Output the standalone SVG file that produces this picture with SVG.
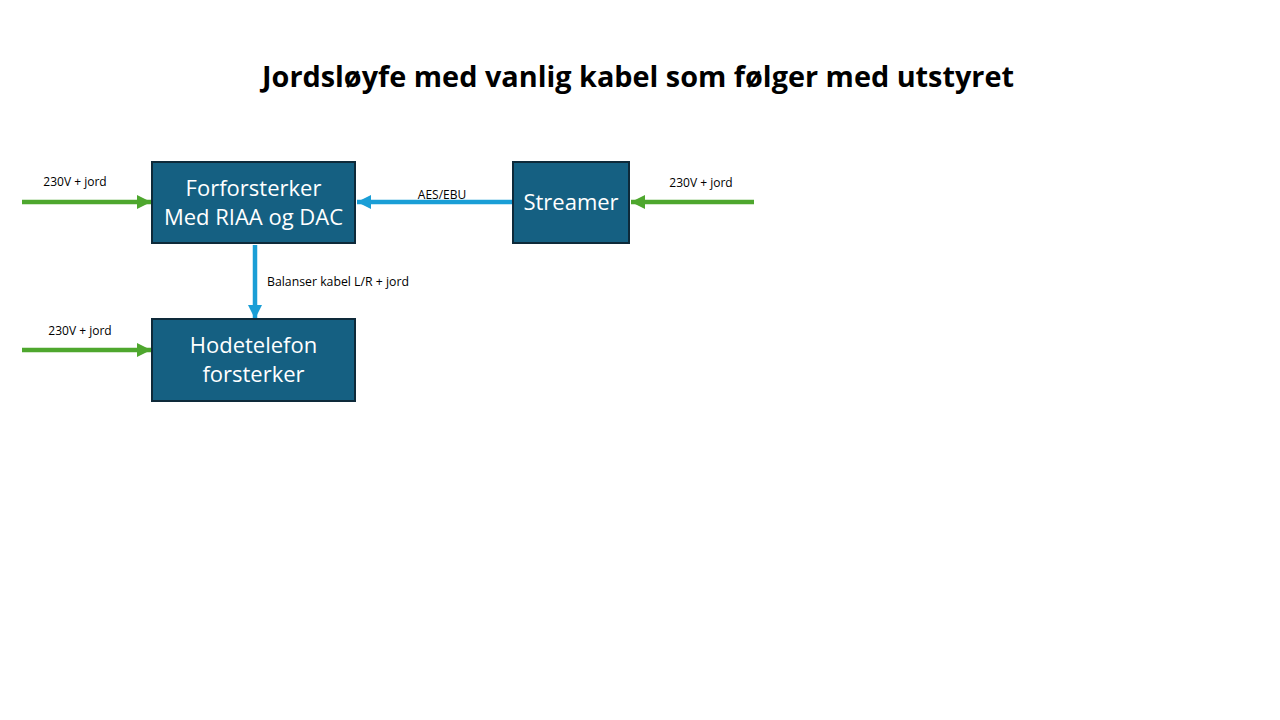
<svg xmlns="http://www.w3.org/2000/svg" width="1280" height="720" viewBox="0 0 1280 720">
<style>
.box{fill:#156082;stroke:#0e2a3a;stroke-width:2}
.nt{font-family:"Open Sans","Liberation Sans",sans-serif;font-size:22px;fill:#ffffff;text-anchor:middle}
.lbl{font-family:"Open Sans","Liberation Sans",sans-serif;font-size:12px;fill:#000000}
.g{stroke:#4ea72e;stroke-width:4.5;fill:none}
.b{stroke:#1a9ed6;stroke-width:4.5;fill:none}
</style>
<defs>
<marker id="ag" viewBox="0 0 10 10" refX="10" refY="5" markerWidth="3.2" markerHeight="3.2" orient="auto" markerUnits="strokeWidth"><path d="M0,0 L10,5 L0,10 z" fill="#4ea72e"/></marker>
<marker id="ab" viewBox="0 0 10 10" refX="10" refY="5" markerWidth="3.2" markerHeight="3.2" orient="auto" markerUnits="strokeWidth"><path d="M0,0 L10,5 L0,10 z" fill="#1a9ed6"/></marker>
</defs>
<rect width="1280" height="720" fill="#ffffff"/>
<text x="638" y="87" font-family="'Open Sans','Liberation Sans',sans-serif" font-size="28.8" font-weight="bold" text-anchor="middle" fill="#000" textLength="752" lengthAdjust="spacingAndGlyphs">Jordsløyfe med vanlig kabel som følger med utstyret</text>
<g id="connectors">
<line class="g" x1="22" y1="202" x2="151" y2="202" marker-end="url(#ag)"/>
<line class="g" x1="22" y1="350" x2="151" y2="350" marker-end="url(#ag)"/>
<line class="g" x1="754" y1="202" x2="631" y2="202" marker-end="url(#ag)"/>
<line class="b" x1="513" y1="202" x2="357" y2="202" marker-end="url(#ab)"/>
<line class="b" x1="255" y1="245" x2="255" y2="319" marker-end="url(#ab)"/>
<text class="lbl" x="75" y="186" text-anchor="middle">230V + jord</text>
<text class="lbl" x="80" y="335" text-anchor="middle">230V + jord</text>
<text class="lbl" x="701" y="187" text-anchor="middle">230V + jord</text>
<text class="lbl" x="442" y="199" text-anchor="middle">AES/EBU</text>
<text class="lbl" x="267" y="286" textLength="142" lengthAdjust="spacingAndGlyphs">Balanser kabel L/R + jord</text>
</g>
<g id="forforsterker">
<rect class="box" x="152" y="162" width="203" height="81"/>
<text class="nt" x="253.5" y="196">Forforsterker</text>
<text class="nt" x="253.5" y="225">Med RIAA og DAC</text>
</g>
<g id="streamer">
<rect class="box" x="513" y="162" width="116" height="81"/>
<text class="nt" x="571" y="210">Streamer</text>
</g>
<g id="hodetelefon">
<rect class="box" x="152" y="319" width="203" height="82"/>
<text class="nt" x="253.5" y="353">Hodetelefon</text>
<text class="nt" x="253.5" y="382">forsterker</text>
</g>
</svg>
